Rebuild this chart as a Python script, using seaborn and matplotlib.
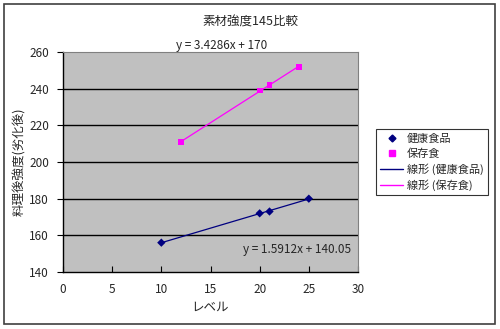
import numpy as np
import pandas as pd
import matplotlib
matplotlib.use("Agg")
import matplotlib.pyplot as plt
import seaborn as sns
from matplotlib.lines import Line2D
from matplotlib.patches import Rectangle

# Measurements
health_level = [10, 20, 21, 25]
health_strength = [156, 172, 173, 180]
storage_level = [12, 20, 21, 24]
storage_strength = [211, 239, 242, 252]

# Linear trend coefficients (slope, intercept)
health_fit = (1.5912, 140.05)
storage_fit = (3.4286, 170)

series_names = ["健康食品", "保存食"]
trend_names = ["線形 (健康食品)", "線形 (保存食)"]
x_ticks = [0, 5, 10, 15, 20, 25, 30]
y_ticks = [140, 160, 180, 200, 220, 240, 260]

sns.set_theme(style="white")
plt.rcParams["font.family"] = ["Noto Sans CJK JP", "DejaVu Sans"]

navy = "#000080"
magenta = "#FF00FF"

fig = plt.figure(figsize=(5.0, 3.29), dpi=100)
fig.patch.set_facecolor("white")

W, H = 500, 329
L, R, T, B = 63, 358, 52, 272
ax = fig.add_axes([L / W, 1 - B / H, (R - L) / W, (B - T) / H])
ax.set_facecolor("#C0C0C0")

df = pd.concat([
    pd.DataFrame({"level": health_level, "strength": health_strength, "series": series_names[0]}),
    pd.DataFrame({"level": storage_level, "strength": storage_strength, "series": series_names[1]}),
])

# Trend lines drawn over each series' own level range
for lv, fit, col in [(health_level, health_fit, navy), (storage_level, storage_fit, magenta)]:
    xs = np.array([min(lv), max(lv)], dtype=float)
    tdf = pd.DataFrame({"x": xs, "y": fit[0] * xs + fit[1]})
    sns.lineplot(data=tdf, x="x", y="y", ax=ax, color=col, lw=0.9, zorder=3)

sns.scatterplot(data=df, x="level", y="strength", hue="series", style="series",
                markers={series_names[0]: "D", series_names[1]: "s"},
                palette={series_names[0]: navy, series_names[1]: magenta},
                s=[18], edgecolor=None, linewidth=0, ax=ax, legend=False, zorder=4)

ax.set_xlim(0, 30)
ax.set_ylim(140, 260)
ax.set_xticks(x_ticks)
ax.set_yticks(y_ticks)
ax.set_xticklabels([str(t) for t in x_ticks], fontsize=8.5)
ax.set_yticklabels([str(t) for t in y_ticks], fontsize=8.5)
for y in y_ticks[1:-1]:
    ax.axhline(y, color="black", lw=1.0, zorder=1)

for side in ["top", "right"]:
    ax.spines[side].set_color("#808080")
    ax.spines[side].set_linewidth(0.8)
for side in ["left", "bottom"]:
    ax.spines[side].set_color("black")
    ax.spines[side].set_linewidth(1.0)

ax.tick_params(axis="y", direction="out", length=4, width=0.8, color="black", pad=6)
ax.tick_params(axis="x", direction="in", length=4, width=0.8, color="black", pad=8)
ax.tick_params(left=True, bottom=True)
ax.set_xlabel("レベル", fontsize=9, labelpad=3)
ax.set_ylabel("料理後強度(劣化後)", fontsize=9, labelpad=2)

# Chart title and trend equations
fig.text(250 / W, 1 - 22 / H, "素材強度145比較", ha="center", va="center", fontsize=9)
fig.text(222 / W, 1 - 46 / H,
         f"y = {storage_fit[0]:.4f}x + {storage_fit[1]:g}", ha="center", va="center", fontsize=8.5)
fig.text(243 / W, 1 - 250 / H,
         f"y = {health_fit[0]:.4f}x + {health_fit[1]:.2f}", ha="left", va="center", fontsize=8.5)

handles = [
    Line2D([], [], ls="none", marker="D", ms=3.5, color=navy, mec=navy),
    Line2D([], [], ls="none", marker="s", ms=4, color=magenta, mec=magenta),
    Line2D([], [], color=navy, lw=1.0),
    Line2D([], [], color=magenta, lw=1.0),
]
leg = fig.legend(handles, series_names + trend_names,
                 loc="upper left", bbox_to_anchor=(376 / W, 1 - 129 / H),
                 borderaxespad=0, fontsize=8, frameon=True, fancybox=False, borderpad=0.4,
                 handlelength=2.0, handletextpad=0.35, labelspacing=0.4)
leg.get_frame().set_edgecolor("black")
leg.get_frame().set_linewidth(0.8)

# Chart-area border
fig.add_artist(Rectangle((4 / W, 1 - 324 / H), 491 / W, 320 / H, transform=fig.transFigure,
                         fill=False, edgecolor="#404040", lw=1.2))

fig.savefig("out.png", dpi=100)
